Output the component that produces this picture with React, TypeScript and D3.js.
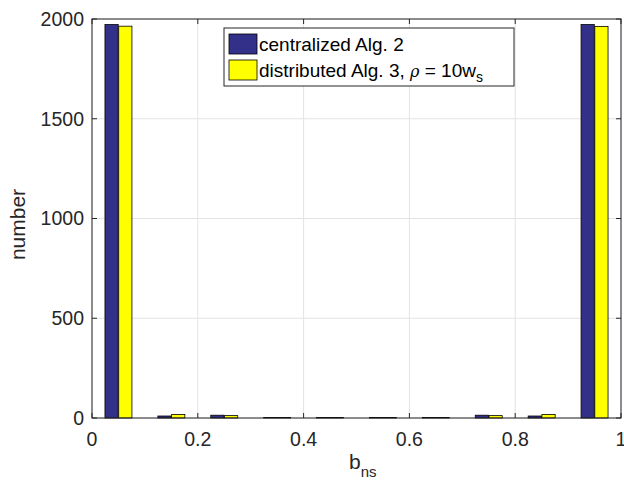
import React, { useEffect, useRef } from "react";
import * as d3 from "d3";

const binCenters = [0.05, 0.15, 0.25, 0.35, 0.45, 0.55, 0.65, 0.75, 0.85, 0.95];
const centralized = [1972, 10, 14, 3, 3, 3, 3, 14, 10, 1972];
const distributed = [1964, 18, 12, 3, 3, 3, 3, 12, 18, 1963];
const xTicks = [0, 0.2, 0.4, 0.6, 0.8, 1];
const yTicks = [0, 500, 1000, 1500, 2000];

const App = () => {
  const svgRef = useRef<SVGSVGElement>(null);

  useEffect(() => {
    const w = 624;
    const h = 488;
    const m = { left: 92, right: 3, top: 19, bottom: 70 };
    const iw = w - m.left - m.right;
    const ih = h - m.top - m.bottom;

    const svg = d3.select(svgRef.current).attr("width", w).attr("height", h);
    svg.selectAll("*").remove();

    const x = d3.scaleLinear().domain([0, 1]).range([0, iw]);
    const y = d3.scaleLinear().domain([0, 2000]).range([ih, 0]);

    const g = svg.append("g").attr("transform", `translate(${m.left},${m.top})`);
    const font = "'Liberation Sans', Arial, sans-serif";

    g.append("rect").attr("width", iw).attr("height", ih).attr("fill", "#fff");

    // grid
    g.selectAll(".gx")
      .data(xTicks)
      .join("line")
      .attr("x1", (d) => x(d))
      .attr("x2", (d) => x(d))
      .attr("y1", 0)
      .attr("y2", ih)
      .attr("stroke", "#e3e3e3");
    g.selectAll(".gy")
      .data(yTicks)
      .join("line")
      .attr("x1", 0)
      .attr("x2", iw)
      .attr("y1", (d) => y(d))
      .attr("y2", (d) => y(d))
      .attr("stroke", "#e3e3e3");

    const bw = 0.025;
    const off = 0.013;
    const series = [
      { vals: centralized, color: "#33308a", dx: -off },
      { vals: distributed, color: "#ffff00", dx: off },
    ];
    series.forEach((s) => {
      g.selectAll(null)
        .data(binCenters)
        .join("rect")
        .attr("x", (d) => x(d + s.dx - bw / 2))
        .attr("width", x(bw) - x(0))
        .attr("y", (d, i) => y(s.vals[i]))
        .attr("height", (d, i) => ih - y(s.vals[i]))
        .attr("fill", s.color)
        .attr("stroke", "#000")
        .attr("stroke-width", 0.8);
    });

    // box
    g.append("rect")
      .attr("width", iw)
      .attr("height", ih)
      .attr("fill", "none")
      .attr("stroke", "#262626")
      .attr("stroke-width", 1);

    // ticks inward
    xTicks.forEach((t) => {
      g.append("line").attr("x1", x(t)).attr("x2", x(t)).attr("y1", ih).attr("y2", ih - 5).attr("stroke", "#262626");
      g.append("line").attr("x1", x(t)).attr("x2", x(t)).attr("y1", 0).attr("y2", 5).attr("stroke", "#262626");
      g.append("text")
        .attr("x", x(t))
        .attr("y", ih + 28)
        .attr("text-anchor", "middle")
        .attr("font-family", font)
        .attr("font-size", 19.5)
        .attr("fill", "#262626")
        .text(String(t));
    });
    yTicks.forEach((t) => {
      g.append("line").attr("x1", 0).attr("x2", 5).attr("y1", y(t)).attr("y2", y(t)).attr("stroke", "#262626");
      g.append("line").attr("x1", iw).attr("x2", iw - 5).attr("y1", y(t)).attr("y2", y(t)).attr("stroke", "#262626");
      g.append("text")
        .attr("x", -8)
        .attr("y", y(t))
        .attr("dy", "0.35em")
        .attr("text-anchor", "end")
        .attr("font-family", font)
        .attr("font-size", 19.5)
        .attr("fill", "#262626")
        .text(String(t));
    });

    // axis labels
    const xl = svg
      .append("text")
      .attr("x", 349)
      .attr("y", h - 19)
      .attr("text-anchor", "start")
      .attr("font-family", font)
      .attr("font-size", 21)
      .attr("fill", "#262626");
    xl.append("tspan").text("b");
    xl.append("tspan").attr("font-size", 15).attr("dy", 8).text("ns");

    svg
      .append("text")
      .attr("transform", `translate(25,${m.top + ih / 2 + 6}) rotate(-90)`)
      .attr("text-anchor", "middle")
      .attr("font-family", font)
      .attr("font-size", 21)
      .attr("fill", "#262626")
      .text("number");

    // legend
    const lg = svg.append("g").attr("transform", "translate(224,28)");
    lg.append("rect").attr("width", 290).attr("height", 58).attr("fill", "#fff").attr("stroke", "#262626");
    const entries = [
      { color: "#33308a", label: "centralized Alg. 2" },
      { color: "#ffff00", label: "distributed Alg. 3, " },
    ];
    entries.forEach((e, i) => {
      const yy = 6 + i * 26;
      lg.append("rect")
        .attr("x", 5)
        .attr("y", yy)
        .attr("width", 28)
        .attr("height", 20)
        .attr("fill", e.color)
        .attr("stroke", "#000")
        .attr("stroke-width", 0.8);
      const t = lg
        .append("text")
        .attr("x", 35)
        .attr("y", yy + 17)
        .attr("font-family", font)
        .attr("font-size", 19)
        .attr("fill", "#000")
        .text(e.label);
      if (i === 1) {
        t.append("tspan").attr("font-family", "'DejaVu Serif', serif").attr("font-style", "italic").attr("font-size", 16).text("ρ");
        t.append("tspan").text(" = 10w");
        t.append("tspan").attr("font-size", 14).attr("dy", 5).text("s");
      }
    });
  }, []);

  return <svg ref={svgRef} style={{ display: "block", position: "absolute", left: 0, top: 0 }} />;
};

export default App;
